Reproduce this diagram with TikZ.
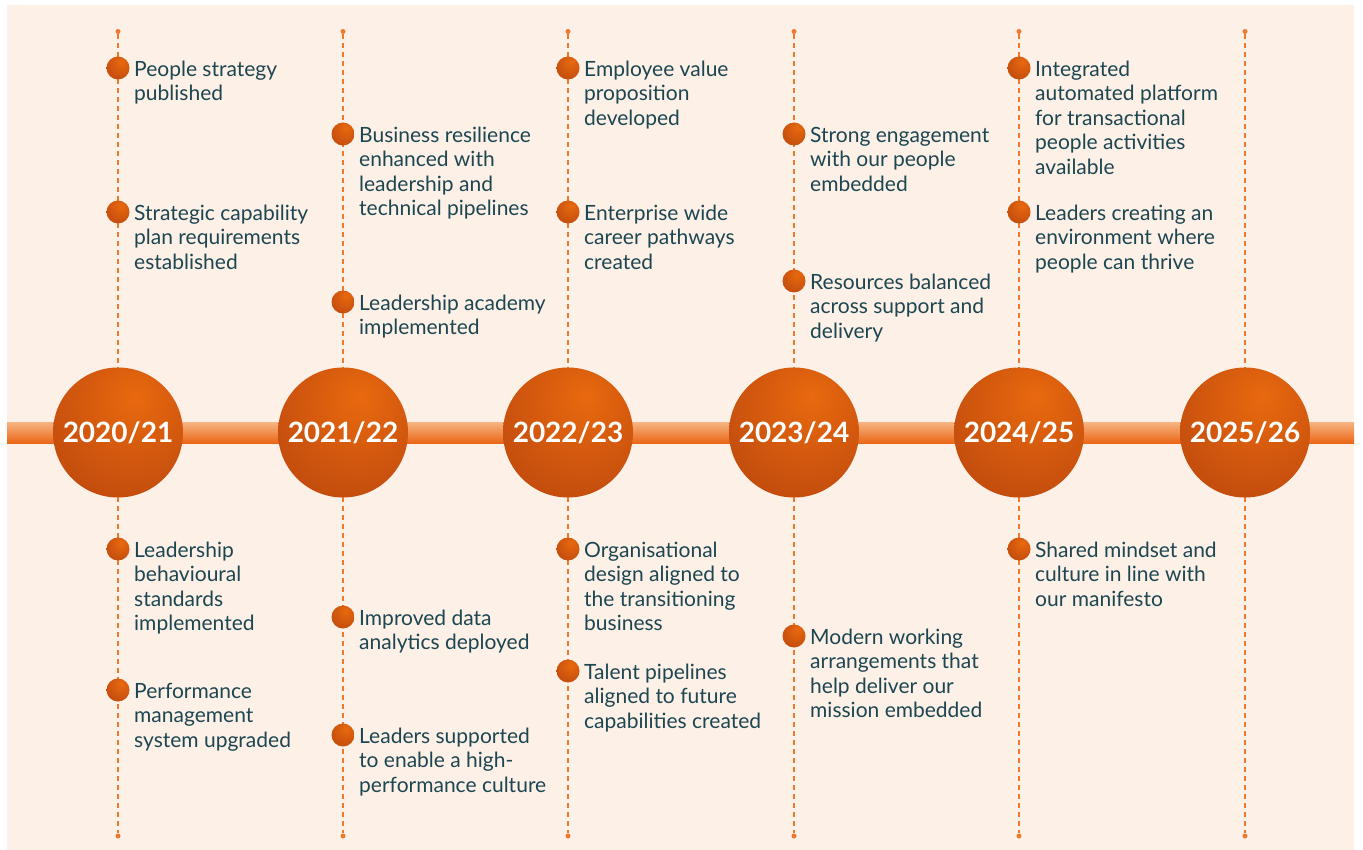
\documentclass[tikz,border=0pt]{standalone}
\usepackage{fontspec}
\setmainfont{Lato}
\definecolor{bgpeach}{HTML}{FCF0E7}
\definecolor{txtcol}{HTML}{1D4651}
\definecolor{dashcol}{HTML}{EF7A2E}
\definecolor{bandtop}{HTML}{F6B582}
\definecolor{bandbot}{HTML}{EB6718}
\definecolor{orbIn}{HTML}{E8690E}
\definecolor{orbOut}{HTML}{A6360D}
\pgfdeclareradialshading{orb}{\pgfpoint{7bp}{14bp}}{color(0bp)=(orbIn); color(64bp)=(orbOut); color(100bp)=(orbOut)}
\tikzset{
  yearorb/.style={circle, minimum size=130pt, inner sep=0pt, shading=orb, text=white, font=\fontsize{28}{30}\selectfont\bfseries},
  itembullet/.style={circle, minimum size=23pt, inner sep=0pt, shading=orb},
  itemtext/.style={anchor=north west, inner sep=0pt, align=left, text=txtcol, font=\fontsize{21}{24.5}\selectfont},
  enddot/.style={circle, fill=dashcol, minimum size=5pt, inner sep=0pt},
  guide/.style={draw=dashcol, line width=1.4pt, dash pattern=on 5pt off 4pt}
}
\begin{document}
\begin{tikzpicture}[x=1pt, y=-1pt]
\useasboundingbox (0,0) rectangle (1363,850);
\fill[bgpeach] (7,5) rectangle (1354,850);
% dashed guides
\foreach \i/\cx in {1/118, 2/343, 3/568, 4/794, 5/1019, 6/1245} {
  \node[enddot] (top\i) at (\cx,31.5) {};
  \node[enddot] (bot\i) at (\cx,836) {};
  \coordinate (ctop\i) at (\cx,368);
  \coordinate (cbot\i) at (\cx,497);
  \draw[guide] (top\i) -- (ctop\i);
  \draw[guide] (cbot\i) -- (bot\i);
}
% band
\shade[top color=bandtop, bottom color=bandbot] (7,422) rectangle (1354,443);
% year orbs
\foreach \i/\cx/\yr in {1/118/2020\slash21, 2/343/2021\slash22, 3/568/2022\slash23, 4/794/2023\slash24, 5/1019/2024\slash25, 6/1245/2025\slash26} {
  \node[yearorb] (year\i) at (\cx,432.5) {\yr};
}
% items
\foreach \nm/\cx/\by/\txt in {
  a1/118/68/{People strategy\\published},
  a2/118/212/{Strategic capability\\plan requirements\\established},
  a3/118/549/{Leadership\\behavioural\\standards\\implemented},
  a4/118/690/{Performance\\management\\system upgraded},
  b1/343/134/{Business resilience\\enhanced with\\leadership and\\technical pipelines},
  b2/343/302/{Leadership academy\\implemented},
  b3/343/617/{Improved data\\analytics deployed},
  b4/343/735/{Leaders supported\\to enable a high-\\performance culture},
  c1/568/68/{Employee value\\proposition\\developed},
  c2/568/212/{Enterprise wide\\career pathways\\created},
  c3/568/549/{Organisational\\design aligned to\\the transitioning\\business},
  c4/568/671/{Talent pipelines\\aligned to future\\capabilities created},
  d1/794/134/{Strong engagement\\with our people\\embedded},
  d2/794/281/{Resources balanced\\across support and\\delivery},
  d3/794/636/{Modern working\\arrangements that\\help deliver our\\mission embedded},
  e1/1019/68/{Integrated\\automated platform\\for transactional\\people activities\\available},
  e2/1019/212/{Leaders creating an\\environment where\\people can thrive},
  e3/1019/549/{Shared mindset and\\culture in line with\\our manifesto}} {
  \node[itembullet] (bul\nm) at (\cx,\by) {};
  \node[itemtext] (txt\nm) at (\cx+16,\by-8.5) {\rule{0pt}{16.5pt}\txt};
}
\end{tikzpicture}
\end{document}
